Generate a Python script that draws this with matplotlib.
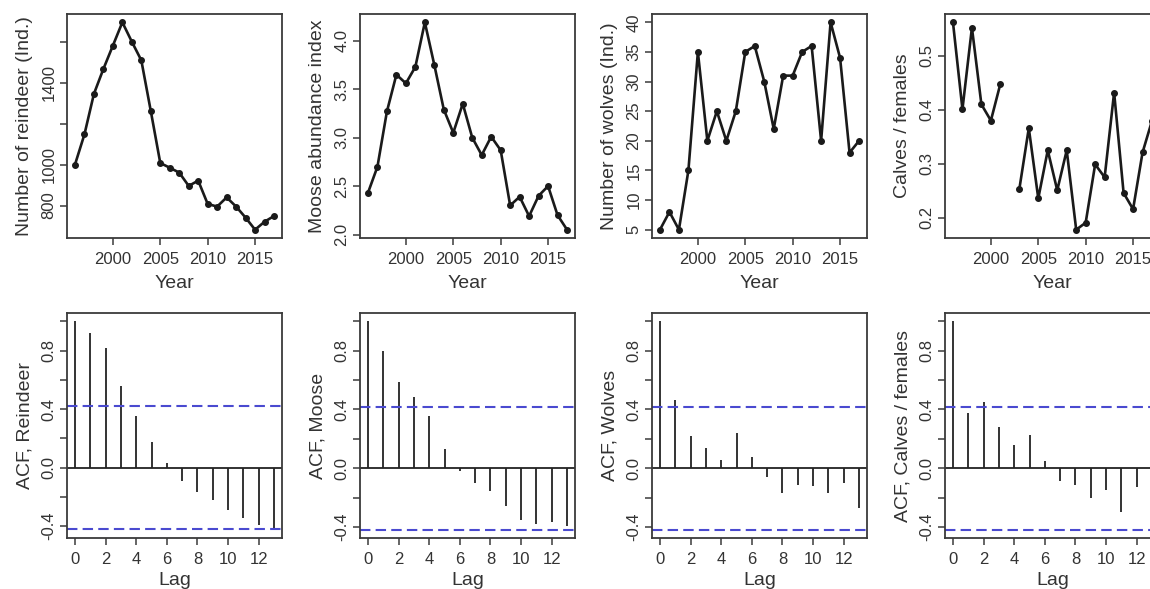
import matplotlib
matplotlib.use("Agg")
import matplotlib.pyplot as plt
import numpy as np

plt.rcParams['font.family'] = ['Liberation Sans', 'DejaVu Sans']

years = list(range(1996, 2018))
reindeer = [1000, 1148, 1346, 1468, 1582, 1696, 1601, 1510, 1262, 1008, 985,
            961, 896, 922, 808, 795, 840, 795, 741, 682, 721, 749]
moose = [2.43, 2.70, 3.27, 3.65, 3.56, 3.73, 4.19, 3.75, 3.29, 3.05, 3.35,
         3.00, 2.82, 3.01, 2.87, 2.30, 2.39, 2.19, 2.40, 2.50, 2.20, 2.05]
wolves = [5, 8, 5, 15, 35, 20, 25, 20, 25, 35, 36,
          30, 22, 31, 31, 35, 36, 20, 40, 34, 18, 20]
calves = [0.562, 0.401, 0.552, 0.410, 0.380, 0.448, np.nan, 0.253, 0.366, 0.236, 0.325,
          0.251, 0.325, 0.178, 0.191, 0.299, 0.275, 0.432, 0.246, 0.216, 0.321, 0.38]

lags = list(range(14))
acf_reindeer = [1.0, 0.92, 0.82, 0.56, 0.35, 0.177, 0.028, -0.09, -0.17, -0.22,
                -0.29, -0.345, -0.39, -0.425]
acf_moose = [1.0, 0.80, 0.587, 0.487, 0.354, 0.128, -0.016, -0.103, -0.158, -0.254,
             -0.35, -0.382, -0.368, -0.39]
acf_wolves = [1.0, 0.464, 0.217, 0.139, 0.053, 0.238, 0.08, -0.062, -0.171, -0.112,
              -0.123, -0.171, -0.103, -0.27]
acf_calves = [1.0, 0.377, 0.453, 0.281, 0.155, 0.229, 0.046, -0.089, -0.114, -0.203,
              -0.146, -0.295, -0.13, -0.10]
conf = 0.418

top_series = [
    (reindeer, 'Number of reindeer (Ind.)', [800, 1000, 1200, 1400, 1600], ['800', '1000', '', '1400', '']),
    (moose, 'Moose abundance index', [2.0, 2.5, 3.0, 3.5, 4.0], ['2.0', '2.5', '3.0', '3.5', '4.0']),
    (wolves, 'Number of wolves (Ind.)', [5, 10, 15, 20, 25, 30, 35, 40],
     ['5', '10', '15', '20', '25', '30', '35', '40']),
    (calves, 'Calves / females', [0.2, 0.3, 0.4, 0.5], ['0.2', '0.3', '0.4', '0.5']),
]
acf_series = [
    (acf_reindeer, 'ACF, Reindeer'),
    (acf_moose, 'ACF, Moose'),
    (acf_wolves, 'ACF, Wolves'),
    (acf_calves, 'ACF, Calves / females'),
]

W, H = 1150, 589
fig = plt.figure(figsize=(W / 100, H / 100), dpi=100)
lefts = [67, 360, 652, 945]
width = 215
txt = '#333333'


def rlim(vals):
    v = np.array(vals, dtype=float)
    lo, hi = np.nanmin(v), np.nanmax(v)
    d = (hi - lo) * 0.04
    return lo - d, hi + d


def style(ax):
    for s in ax.spines.values():
        s.set_color('#3a3a3a')
        s.set_linewidth(1.3)
    ax.tick_params(direction='out', length=5, width=1.1, color='#3a3a3a',
                   labelsize=12, labelcolor=txt)
    ax.tick_params(axis='x', pad=5)
    ax.tick_params(axis='y', pad=2.5)
    for lab in ax.get_yticklabels():
        lab.set_rotation(90)
        lab.set_va('center')


for i, (vals, ylab, yt, ytl) in enumerate(top_series):
    ax = fig.add_axes([lefts[i] / W, 1 - 238 / H, width / W, 224 / H])
    ax.plot(years, vals, color='#1a1a1a', lw=1.9, marker='o', ms=4)
    ax.set_xlim(rlim(years))
    ax.set_ylim(rlim(vals))
    ax.set_xticks([2000, 2005, 2010, 2015])
    ax.set_yticks(yt)
    ax.set_yticklabels(ytl)
    ax.set_xlabel('Year', fontsize=14, color=txt, labelpad=6)
    ax.set_ylabel(ylab, fontsize=14, color=txt, labelpad=6)
    style(ax)

for i, (vals, ylab) in enumerate(acf_series):
    ax = fig.add_axes([lefts[i] / W, 1 - 538 / H, width / W, 225 / H])
    ax.vlines(lags, 0, vals, color='#333333', lw=1.4)
    ax.axhline(0, color='#222222', lw=1.3)
    ax.axhline(conf, color='#4a4ad0', lw=1.5, dashes=(5, 2.5))
    ax.axhline(-conf, color='#4a4ad0', lw=1.5, dashes=(5, 2.5))
    ax.set_xlim(rlim(lags))
    ax.set_ylim(rlim([min(min(vals), -conf), 1.0]))
    ax.set_xticks(range(0, 14, 2))
    ax.set_yticks([-0.4, -0.2, 0.0, 0.2, 0.4, 0.6, 0.8, 1.0])
    ax.set_yticklabels(['-0.4', '', '0.0', '', '0.4', '', '0.8', ''])
    ax.set_xlabel('Lag', fontsize=14, color=txt, labelpad=4)
    ax.set_ylabel(ylab, fontsize=14, color=txt, labelpad=6)
    style(ax)

fig.savefig('out.png', dpi=100)
